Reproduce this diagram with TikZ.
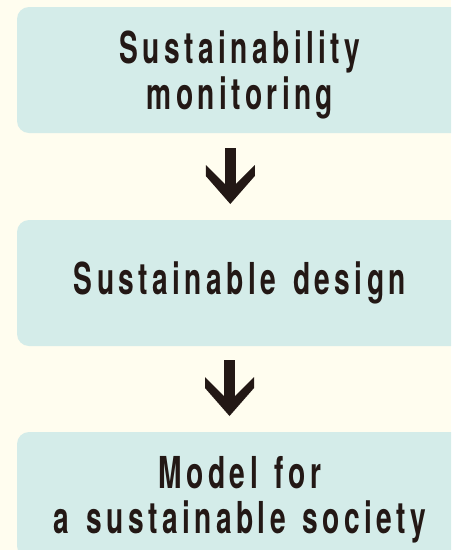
\documentclass[tikz,border=0pt]{standalone}
\usepackage{fontspec}
\usetikzlibrary{arrows.meta}
\newfontfamily\boxfont{TeX Gyre Heros}[FakeStretch=0.64,LetterSpace=10,WordSpace=1.4]
\definecolor{paper}{HTML}{FFFDEF}
\definecolor{teal box}{HTML}{D4ECE9}
\definecolor{ink}{HTML}{231815}

% thick chevron head for the down arrows
\pgfdeclarearrow{
  name = Chevron,
  setup code = {
    \pgfarrowssettipend{0pt}
    \pgfarrowssetlineend{-19pt}
    \pgfarrowssetbackend{-39pt}
    \pgfarrowshullpoint{0pt}{0pt}
    \pgfarrowsupperhullpoint{-39pt}{24.5pt}
  },
  drawing code = {
    \pgfpathmoveto{\pgfpointorigin}
    \pgfpathlineto{\pgfpoint{-28pt}{24.5pt}}
    \pgfpathlineto{\pgfpoint{-39pt}{24.5pt}}
    \pgfpathlineto{\pgfpoint{-20pt}{5.5pt}}
    \pgfpathlineto{\pgfpoint{-20pt}{-5.5pt}}
    \pgfpathlineto{\pgfpoint{-39pt}{-24.5pt}}
    \pgfpathlineto{\pgfpoint{-28pt}{-24.5pt}}
    \pgfpathclose
    \pgfusepathqfill
  }
}

\begin{document}
\begin{tikzpicture}[x=1pt,y=-1pt,
  stage/.style={fill=teal box, rounded corners=12pt, minimum width=446pt,
    minimum height=126pt, align=center, text=ink,
    font=\boxfont\bfseries\fontsize{44}{45.5}\selectfont},
  flow/.style={draw=ink, fill=ink, line width=11pt, -Chevron}]
\useasboundingbox (0,0) rectangle (451,550);
\fill[paper] (0,0) rectangle (451,550);
\clip (0,0) rectangle (451,550);

\node[stage, text depth=0pt] (monitor) at (240,70) {Sustainability\\monitoring};
\node[stage] (design) at (240,283) {Sustainable design};
\node[stage, text depth=0pt] (model) at (240,495) {Model for\\a sustainable society};

\coordinate (s1) at (230.3,148);
\coordinate (e1) at (230.3,204);
\coordinate (s2) at (229.5,360);
\coordinate (e2) at (229.5,416);

\path[flow] (s1) -- (e1);
\path[flow] (s2) -- (e2);
\end{tikzpicture}
\end{document}
